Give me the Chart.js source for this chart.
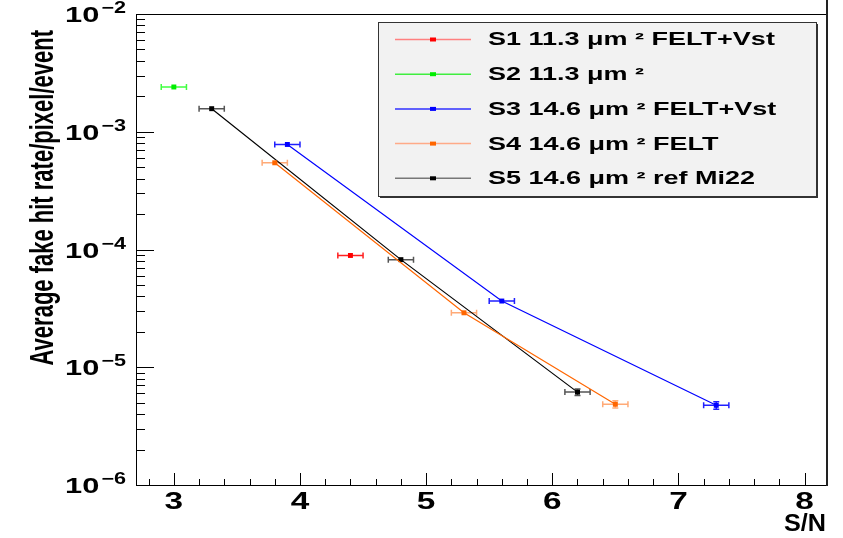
<!DOCTYPE html>
<html>
<head>
<meta charset="utf-8">
<script src="https://cdn.jsdelivr.net/npm/chart.js@4.4.1/dist/chart.umd.min.js"></script>
<style>
  html, body { margin: 0; padding: 0; background: #fff; }
  #wrap { width: 843px; height: 538px; }
</style>
</head>
<body>
<div id="wrap"><canvas id="fakeRate"></canvas></div>
<script>
// series (S/N, average fake hit rate)
const seriesNames = [
  'S1 11.3 μm ² FELT+Vst',
  'S2 11.3 μm ²',
  'S3 14.6 μm ² FELT+Vst',
  'S4 14.6 μm ² FELT',
  'S5 14.6 μm ² ref Mi22'
];
const s1X = [4.4];
const s1Y = [8.9e-5];
const s2X = [3.0];
const s2Y = [2.4e-3];
const s3X = [3.9, 5.6, 7.3];
const s3Y = [7.8e-4, 3.65e-5, 4.75e-6];
const s4X = [3.8, 5.3, 6.5];
const s4Y = [5.45e-4, 2.9e-5, 4.85e-6];
const s5X = [3.3, 4.8, 6.2];
const s5Y = [1.57e-3, 8.2e-5, 6.15e-6];

const s1XErr = [0.1];
const s1YErr = [1e-6];
const s2XErr = [0.1];
const s2YErr = [2e-5];
const s3XErr = [0.1, 0.1, 0.1];
const s3YErr = [8e-6, 5e-7, 3.5e-7];
const s4XErr = [0.1, 0.1, 0.1];
const s4YErr = [6e-6, 4e-7, 3.5e-7];
const s5XErr = [0.1, 0.1, 0.1];
const s5YErr = [1.5e-5, 1e-6, 4e-7];

const xTicks = [3, 4, 5, 6, 7, 8];
const xTickLabels = ['3', '4', '5', '6', '7', '8'];
const yTicks = [1e-6, 1e-5, 1e-4, 1e-3, 1e-2];
const yTickExps = ['−6', '−5', '−4', '−3', '−2'];

const SX = 1.5; // the picture is stretched sideways, text follows it

function pts(xs, ys, xe, ye) {
  return xs.map((x, i) => ({ x: x, y: ys[i], xErr: xe[i], yErr: ye[i] }));
}

function stretchText(ctx, str, x, y, align, sx) {
  ctx.save();
  ctx.translate(x, y);
  ctx.scale(sx || SX, 1);
  ctx.textAlign = align;
  ctx.fillText(str, 0, 0);
  ctx.restore();
}

const rootStyle = {
  id: 'rootStyle',
  beforeDatasetsDraw(chart) {
    const ctx = chart.ctx;
    const xs = chart.scales.x, ys = chart.scales.y;
    chart.data.datasets.forEach(ds => {
      ctx.save();
      ctx.strokeStyle = ds.errColor;
      ctx.lineWidth = 1.5;
      ds.data.forEach(p => {
        const px = xs.getPixelForValue(p.x), py = ys.getPixelForValue(p.y);
        const x0 = xs.getPixelForValue(p.x - p.xErr), x1 = xs.getPixelForValue(p.x + p.xErr);
        const y0 = ys.getPixelForValue(p.y - p.yErr), y1 = ys.getPixelForValue(p.y + p.yErr);
        ctx.beginPath();
        ctx.moveTo(x0, py); ctx.lineTo(x1, py);
        ctx.moveTo(x0, py - 3); ctx.lineTo(x0, py + 3);
        ctx.moveTo(x1, py - 3); ctx.lineTo(x1, py + 3);
        if (Math.abs(y1 - y0) > 4) {
          ctx.moveTo(px, y0); ctx.lineTo(px, y1);
          ctx.moveTo(px - 3, y0); ctx.lineTo(px + 3, y0);
          ctx.moveTo(px - 3, y1); ctx.lineTo(px + 3, y1);
        }
        ctx.stroke();
      });
      ctx.restore();
    });
  },
  afterDraw(chart) {
    const ctx = chart.ctx;
    const a = chart.chartArea;
    const xs = chart.scales.x, ys = chart.scales.y;
    ctx.save();
    ctx.strokeStyle = '#000';
    ctx.fillStyle = '#000';
    ctx.lineWidth = 1;
    // frame
    ctx.strokeRect(a.left + 0.5, a.top + 0.5, a.right - a.left, a.bottom - a.top);
    ctx.fillStyle = '#222';
    ctx.fillRect(a.right, 0, 2, a.bottom + 1);
    // x ticks, inward
    ctx.beginPath();
    for (let v = 2.8; v < xs.max; v += 0.2) {
      const px = Math.round(xs.getPixelForValue(v)) + 0.5;
      const major = Math.abs(v - Math.round(v)) < 0.01;
      ctx.moveTo(px, a.bottom);
      ctx.lineTo(px, a.bottom - (major ? 12 : 6));
    }
    // y ticks, inward
    yTicks.forEach(d => {
      for (let m = 1; m < 10; m++) {
        const v = d * m;
        if (v > ys.max * 1.0001) break;
        const py = Math.round(ys.getPixelForValue(v)) + 0.5;
        ctx.moveTo(a.left, py);
        ctx.lineTo(a.left + (m === 1 ? 18 : 9), py);
      }
    });
    ctx.stroke();

    // x tick labels
    ctx.fillStyle = '#000';
    ctx.font = 'bold 23px "Liberation Sans", Arial, sans-serif';
    ctx.textBaseline = 'alphabetic';
    xTicks.forEach((v, i) => {
      stretchText(ctx, xTickLabels[i], xs.getPixelForValue(v), a.bottom + 24, 'center', 1.45);
    });
    // y tick labels, 10 with a raised exponent
    yTicks.forEach((v, i) => {
      const py = ys.getPixelForValue(v);
      ctx.font = 'bold 16px "Liberation Sans", Arial, sans-serif';
      stretchText(ctx, yTickExps[i], a.left - 10, py - 1, 'right', 1.35);
      const w = ctx.measureText(yTickExps[i]).width * 1.35;
      ctx.font = 'bold 22px "Liberation Sans", Arial, sans-serif';
      stretchText(ctx, '10', a.left - 12 - w, py + 8, 'right', 1.4);
    });
    // axis titles
    ctx.font = 'bold 24px "Liberation Sans", Arial, sans-serif';
    stretchText(ctx, 'S/N', a.right, a.bottom + 46, 'right', 1.05);
    ctx.save();
    ctx.translate(53, 30);
    ctx.rotate(-Math.PI / 2);
    ctx.scale(1, 1.55);
    ctx.font = 'bold 22px "Liberation Sans", Arial, sans-serif';
    ctx.textAlign = 'right';
    ctx.fillText('Average fake hit rate/pixel/event', 0, 0);
    ctx.restore();

    // legend box
    const lx = 378, ly = 22, lw = 438, lh = 174;
    ctx.fillStyle = '#f2f2f2';
    ctx.fillRect(lx, ly, lw, lh);
    ctx.strokeStyle = '#333';
    ctx.lineWidth = 1;
    ctx.strokeRect(lx + 0.5, ly + 0.5, lw, lh);
    ctx.fillStyle = '#333';
    ctx.fillRect(lx + lw, ly + 2, 2, lh);
    ctx.fillRect(lx + 2, ly + lh, lw, 2);
    chart.data.datasets.forEach((ds, i) => {
      const ry = 39.5 + i * 34.7;
      ctx.strokeStyle = ds.legendColor;
      ctx.lineWidth = 1.5;
      ctx.beginPath();
      ctx.moveTo(395, ry); ctx.lineTo(471, ry);
      ctx.stroke();
      ctx.fillStyle = ds.pointBackgroundColor;
      ctx.fillRect(430, ry - 2, 6, 4);
      ctx.fillStyle = '#000';
      ctx.font = 'bold 18px "Liberation Sans", Arial, sans-serif';
      ctx.textBaseline = 'middle';
      stretchText(ctx, seriesNames[i], 488, ry + 1, 'left');
      ctx.textBaseline = 'alphabetic';
    });
    ctx.restore();
  }
};

function series(i, data, color, errColor, legendColor, line) {
  return {
    label: seriesNames[i],
    data: data,
    showLine: line,
    borderColor: color,
    borderWidth: 1.2,
    pointStyle: 'rect',
    pointRadius: 3.5,
    pointBorderWidth: 0,
    pointBackgroundColor: color,
    pointBorderColor: color,
    errColor: errColor,
    legendColor: legendColor
  };
}

new Chart(document.getElementById('fakeRate'), {
  type: 'scatter',
  data: {
    datasets: [
      series(0, pts(s1X, s1Y, s1XErr, s1YErr), '#ff0000', '#ff2020', '#ff8080', false),
      series(1, pts(s2X, s2Y, s2XErr, s2YErr), '#00ee00', '#40ff40', '#40ee40', false),
      series(2, pts(s3X, s3Y, s3XErr, s3YErr), '#0000ff', '#2020ff', '#3030ff', true),
      series(3, pts(s4X, s4Y, s4XErr, s4YErr), '#ff6600', '#ffaa77', '#ffaa88', true),
      series(4, pts(s5X, s5Y, s5XErr, s5YErr), '#000000', '#555555', '#777777', true)
    ]
  },
  options: {
    responsive: true,
    maintainAspectRatio: false,
    animation: false,
    layout: { padding: { left: 136, right: 17, top: 14, bottom: 53 } },
    plugins: { legend: { display: false }, tooltip: { enabled: false } },
    scales: {
      x: { type: 'linear', display: false, min: 2.7, max: 8.17 },
      y: { type: 'logarithmic', display: false, min: 1e-6, max: 1e-2 }
    }
  },
  plugins: [rootStyle]
});
</script>
</body>
</html>
